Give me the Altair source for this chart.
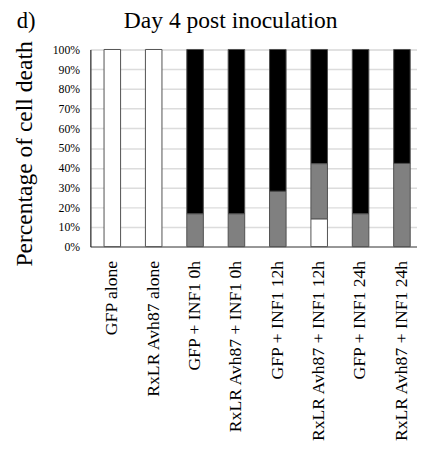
import altair as alt
import pandas as pd

categories = ["GFP alone", "RxLR Avh87 alone", "GFP + INF1 0h", "RxLR Avh87 + INF1 0h",
              "GFP + INF1 12h", "RxLR Avh87 + INF1 12h", "GFP + INF1 24h", "RxLR Avh87 + INF1 24h"]
white_vals = [100, 100, 0, 0, 0, 14.1, 0, 0]
grey_vals = [0, 0, 16.7, 16.7, 28.1, 28.0, 16.7, 42.2]
black_vals = [0, 0, 83.3, 83.3, 71.9, 57.9, 83.3, 57.8]
segments = ["white", "grey", "black"]
seg_colors = ["#ffffff", "#808080", "#000000"]
y_ticks = [0, 10, 20, 30, 40, 50, 60, 70, 80, 90, 100]

rows = []
for i, c in enumerate(categories):
    for j, (s, vals) in enumerate(zip(segments, [white_vals, grey_vals, black_vals])):
        if vals[i] > 0:
            rows.append({"cat": c, "seg": s, "order": j, "value": vals[i]})
df = pd.DataFrame(rows)

FONT = "Liberation Serif"

bars = alt.Chart(df).mark_bar(stroke="#505050", strokeWidth=1).encode(
    x=alt.X("cat:N", sort=categories,
            scale=alt.Scale(paddingInner=0.6, paddingOuter=0.33, range=[0, 340]),
            axis=alt.Axis(title=None, labelAngle=-90, labelFontSize=18, labelFont=FONT,
                          labelColor="#000", ticks=False, labelPadding=14,
                          domainColor="#7f7f7f", domainWidth=1.5, labelLimit=300)),
    y=alt.Y("value:Q", stack="zero", scale=alt.Scale(domain=[0, 100], nice=False),
            axis=alt.Axis(title="Percentage of cell death", values=y_ticks,
                          labelExpr="datum.value + '%'", labelFontSize=12, labelFont=FONT,
                          labelColor="#000", ticks=False, labelPadding=11,
                          domainColor="#000", domainWidth=1,
                          gridColor="#dcdcdc", gridWidth=1.5,
                          titleFont=FONT, titleFontSize=24, titleFontWeight="normal",
                          titleColor="#000", titleX=-67, titleY=106,
                          titleAlign="center", titleBaseline="middle", titleAngle=-90)),
    color=alt.Color("seg:N", scale=alt.Scale(domain=segments, range=seg_colors), legend=None),
    order=alt.Order("order:Q"),
)

tag = alt.Chart(pd.DataFrame({"t": ["d)"]})).mark_text(
    font=FONT, fontSize=23, align="left", baseline="alphabetic", color="#000"
).encode(text="t:N", x=alt.value(-75), y=alt.value(-22))

title = alt.Chart(pd.DataFrame({"t": ["Day 4 post inoculation"]})).mark_text(
    font=FONT, fontSize=24, align="center", baseline="alphabetic", color="#000"
).encode(text="t:N", x=alt.value(143), y=alt.value(-22))

chart = alt.layer(bars, tag, title).properties(
    width=333, height=201,
    autosize=alt.AutoSizeParams(type="none"),
    padding={"left": 84, "top": 38, "right": 0, "bottom": 199},
).configure_view(stroke=None).configure(background="white")

chart.save("out.html", embed_options={"renderer": "svg", "actions": False})
